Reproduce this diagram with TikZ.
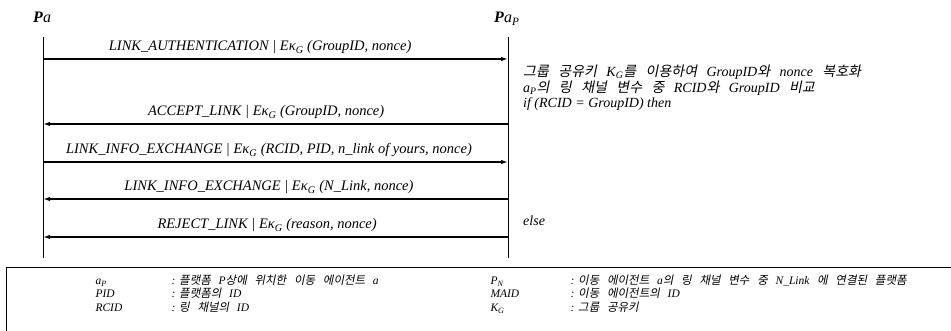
\documentclass[tikz,border=0pt]{standalone}
\usepackage{fontspec}
\setmainfont{Liberation Serif}
\newfontfamily\krfont[AutoFakeSlant=0.2,Scale=1.0,WordSpace={3,0,0}]{Noto Sans CJK KR}
\usetikzlibrary{arrows.meta}

\newcommand{\ko}[1]{{\krfont #1}}
\newcommand{\encK}{\textit{E}κ\textsubscript{\textit{G}}}

\begin{document}
\begin{tikzpicture}[x=1pt,y=-1pt,
    msg/.style={-{Latex[length=7pt,width=4.5pt]},line width=1.4pt},
    lbl/.style={anchor=base,font=\fontsize{14.5}{16}\selectfont\itshape},
    note/.style={anchor=base west,font=\fontsize{11.5}{13}\selectfont\itshape}]
    \useasboundingbox (0,0) rectangle (951,331);

    % the two agents
    \node[anchor=base west,inner sep=0,font=\fontsize{16}{18}\selectfont] (pa) at (33,23)
        {\textbf{\textit{P}}\textit{a}};
    \node[anchor=base west,inner sep=0,font=\fontsize{16}{18}\selectfont] (pap) at (494,23)
        {\textbf{\textit{P}}\textit{a}\textsubscript{\textit{P}}};
    \coordinate (la) at (43,37);
    \coordinate (la end) at (43,258);
    \coordinate (lb) at (508,37);
    \coordinate (lb end) at (508,258);
    \draw[line width=0.8pt] (la) -- (la end);
    \draw[line width=0.8pt] (lb) -- (lb end);

    % messages
    \foreach \i/\y in {1/59,2/124,3/162,4/199,5/237}{
        \coordinate (a\i) at (43,\y);
        \coordinate (b\i) at (508,\y);
    }
    \draw[msg] (a1) -- (b1) node[lbl,pos=0.467,yshift=8pt]
        {LINK\_AUTHENTICATION | \encK{} (GroupID, nonce)};
    \draw[msg] (b2) -- (a2) node[lbl,pos=0.52,yshift=8pt]
        {ACCEPT\_LINK | \encK{} (GroupID, nonce)};
    \draw[msg] (a3) -- (b3) node[lbl,pos=0.486,yshift=8pt]
        {LINK\_INFO\_EXCHANGE | \encK{} (RCID, PID, n\_link of yours, nonce)};
    \draw[msg] (b4) -- (a4) node[lbl,pos=0.514,yshift=8pt]
        {LINK\_INFO\_EXCHANGE | \encK{} (N\_Link, nonce)};
    \draw[msg] (b5) -- (a5) node[lbl,pos=0.518,yshift=8pt]
        {REJECT\_LINK | \encK{} (reason, nonce)};

    % processing at Pa_P
    \node[anchor=north west,align=left,inner sep=0,
          font=\fontsize{14}{15.5}\selectfont\itshape] (proc) at (523,65)
        {\ko{그룹 공유키 }K\textsubscript{G}\ko{를 이용하여 }GroupID\ko{와 }nonce\ko{ 복호화}\\
         a\textsubscript{P}\ko{의 링 채널 변수 중 }RCID\ko{와 }GroupID\ko{ 비교}\\
         if (RCID = GroupID) then};
    \node[anchor=base west,inner sep=0,font=\fontsize{14}{15}\selectfont\itshape] (els) at (523,226) {else};

    % legend
    \draw[line width=0.8pt] (6,267) rectangle (960,340);
    \node[note] (k1) at (92,285) {a\textsubscript{P}};
    \node[note] (v1) at (168,285) {: \ko{플랫폼 }P\ko{상에 위치한 이동 에이전트 }a};
    \node[note] (k2) at (92,298) {PID};
    \node[note] (v2) at (168,298) {: \ko{플랫폼의 }ID};
    \node[note] (k3) at (92,312) {RCID};
    \node[note] (v3) at (168,312) {: \ko{링 채널의 }ID};
    \node[note] (k4) at (487,285) {P\textsubscript{N}};
    \node[note] (v4) at (567,285) {: \ko{이동 에이전트 }a\ko{의 링 채널 변수 중 }N\_Link\ko{ 에 연결된 플랫폼}};
    \node[note] (k5) at (487,298) {MAID};
    \node[note] (v5) at (567,298) {: \ko{이동 에이전트의 }ID};
    \node[note] (k6) at (487,312) {K\textsubscript{G}};
    \node[note] (v6) at (567,312) {: \ko{그룹 공유키}};
\end{tikzpicture}
\end{document}
